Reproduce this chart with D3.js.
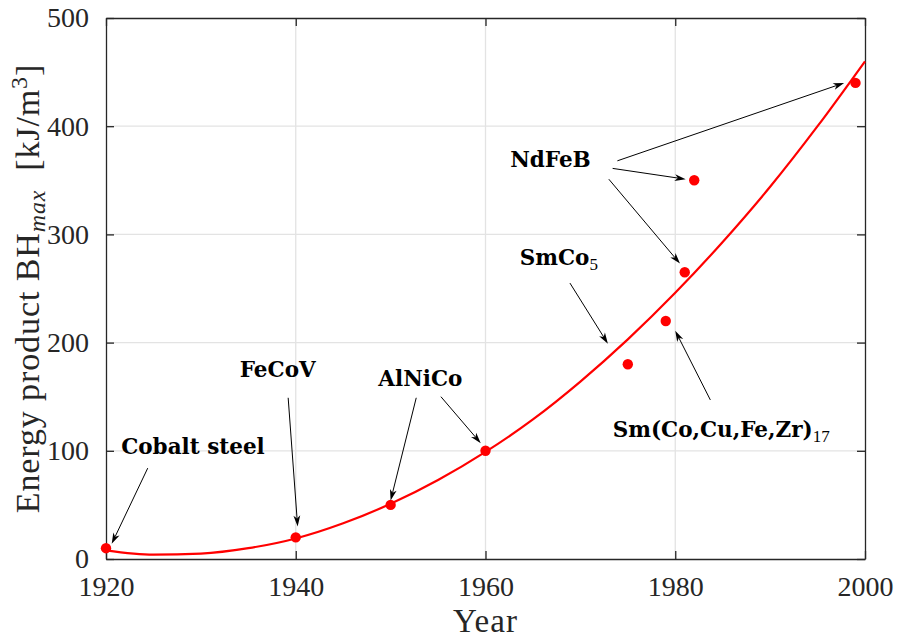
<!DOCTYPE html>
<html>
<head>
<meta charset="utf-8">
<script src="https://cdn.jsdelivr.net/npm/d3@7/dist/d3.min.js"></script>
<style>
  html, body { margin: 0; padding: 0; background: #fff; }
  svg { display: block; }
  .tick text { font-family: "Liberation Serif", serif; }
</style>
</head>
<body>
<svg id="chart" width="898" height="641"></svg>
<script>
// Measured magnets: year of introduction and maximum energy product (kJ/m^3)
const years  = [1920, 1940, 1950, 1960, 1975, 1979, 1981, 1982, 1999];
const bhMax  = [10, 20, 50, 100, 180, 220, 265, 350, 440];

// Trend curve sampled every 5 years
const trendYears  = [1920, 1925, 1930, 1935, 1940, 1945, 1950, 1955, 1960, 1965, 1970, 1975, 1980, 1985, 1990, 1995, 2000];
const trendValues = [8, 4, 5, 10, 19, 33, 51, 73, 99, 129, 164, 203, 246, 293, 344, 400, 460];

// Axis ticks
const xTicks = [1920, 1940, 1960, 1980, 2000];
const yTicks = [0, 100, 200, 300, 400, 500];

// Material labels (text, sub, anchor year, anchor value)
const labelNames = ["Cobalt steel", "FeCoV", "AlNiCo", "SmCo", "NdFeB", "Sm(Co,Cu,Fe,Zr)"];
const labelSubs  = ["", "", "", "5", "", "17"];
const labelYears = [1921.6, 1934.1, 1948.7, 1963.6, 1962.6, 1973.4];
const labelVals  = [97, 168, 160, 272, 362, 113];

// Arrows: tail (year, value) -> head (year, value)
const arrowFrom = [[1924.4, 84], [1939.2, 149], [1952.7, 149], [1955.3, 150], [1968.9, 255],
                   [1973.9, 368], [1973.4, 361], [1973.0, 351], [1983.7, 147]];
const arrowTo   = [[1920.6, 14], [1940.2, 30], [1950.0, 54], [1959.5, 107], [1972.9, 199],
                   [1997.8, 440], [1981.1, 351], [1980.5, 273], [1980.0, 211]];

const svg = d3.select("#chart");
const margin = { left: 106, right: 33, top: 18, bottom: 82 };
const W = 898, H = 641;
const x = d3.scaleLinear().domain([1920, 2000]).range([margin.left, W - margin.right]);
const y = d3.scaleLinear().domain([0, 500]).range([H - margin.bottom, margin.top]);

const axisColor = "#262626";
const gridColor = "#e3e3e3";

// Grid
const grid = svg.append("g");
grid.selectAll("line.gx").data(xTicks.slice(1, -1)).join("line")
  .attr("x1", d => x(d)).attr("x2", d => x(d))
  .attr("y1", y(0)).attr("y2", y(500))
  .attr("stroke", gridColor).attr("stroke-width", 1.3);
grid.selectAll("line.gy").data(yTicks.slice(1, -1)).join("line")
  .attr("x1", x(1920)).attr("x2", x(2000))
  .attr("y1", d => y(d)).attr("y2", d => y(d))
  .attr("stroke", gridColor).attr("stroke-width", 1.3);

// Axes (ticks drawn inward, boxed)
const tickLen = 8;
const fmt = d3.format("d");
const axBottom = svg.append("g").attr("transform", `translate(0,${y(0)})`)
  .call(d3.axisBottom(x).tickValues(xTicks).tickFormat(fmt).tickSizeInner(-tickLen).tickSizeOuter(0).tickPadding(17));
const axTop = svg.append("g").attr("transform", `translate(0,${y(500)})`)
  .call(d3.axisTop(x).tickValues(xTicks).tickFormat("").tickSizeInner(-tickLen).tickSizeOuter(0));
const axLeft = svg.append("g").attr("transform", `translate(${x(1920)},0)`)
  .call(d3.axisLeft(y).tickValues(yTicks).tickFormat(fmt).tickSizeInner(-tickLen).tickSizeOuter(0).tickPadding(17));
const axRight = svg.append("g").attr("transform", `translate(${x(2000)},0)`)
  .call(d3.axisRight(y).tickValues(yTicks).tickFormat("").tickSizeInner(-tickLen).tickSizeOuter(0));

[axBottom, axTop, axLeft, axRight].forEach(g => {
  g.select(".domain").attr("stroke", axisColor).attr("stroke-width", 1.3);
  g.selectAll(".tick line").attr("stroke", axisColor).attr("stroke-width", 1.3);
  g.selectAll(".tick text").attr("fill", axisColor).attr("font-size", 28);
});

// Trend curve
const curveData = trendYears.map((t, i) => [t, trendValues[i]]);
svg.append("path")
  .datum(curveData)
  .attr("fill", "none")
  .attr("stroke", "#ff0000")
  .attr("stroke-width", 2.2)
  .attr("d", d3.line().x(d => x(d[0])).y(d => y(d[1])).curve(d3.curveMonotoneX));

// Points
svg.append("g").selectAll("circle")
  .data(years.map((t, i) => [t, bhMax[i]]))
  .join("circle")
  .attr("cx", d => x(d[0])).attr("cy", d => y(d[1]))
  .attr("r", 5.2).attr("fill", "#ff0000");

// Arrows
const arrows = svg.append("g");
arrowFrom.forEach((f, i) => {
  const t = arrowTo[i];
  const x1 = x(f[0]), y1 = y(f[1]), x2 = x(t[0]), y2 = y(t[1]);
  const ang = Math.atan2(y2 - y1, x2 - x1);
  const hl = 11, hw = 3.4, notch = 8;
  const bx = x2 - hl * Math.cos(ang), by = y2 - hl * Math.sin(ang);
  const nx = x2 - notch * Math.cos(ang), ny = y2 - notch * Math.sin(ang);
  const px = -Math.sin(ang), py = Math.cos(ang);
  arrows.append("line")
    .attr("x1", x1).attr("y1", y1).attr("x2", nx).attr("y2", ny)
    .attr("stroke", "#000").attr("stroke-width", 1);
  arrows.append("path")
    .attr("d", `M${x2},${y2}L${bx + hw * px},${by + hw * py}L${nx},${ny}L${bx - hw * px},${by - hw * py}Z`)
    .attr("fill", "#000");
});

// Labels
const labels = svg.append("g")
  .attr("font-family", "DejaVu Serif, serif")
  .attr("font-weight", "bold")
  .attr("font-size", 21.5)
  .attr("fill", "#000");
labelNames.forEach((name, i) => {
  const t = labels.append("text").attr("x", x(labelYears[i])).attr("y", y(labelVals[i]));
  t.append("tspan").text(name);
  if (labelSubs[i]) {
    t.append("tspan").text(labelSubs[i])
      .attr("font-family", "Liberation Serif, serif")
      .attr("font-weight", "normal").attr("font-size", 17).attr("dy", 5);
  }
});

// Axis titles
svg.append("text")
  .attr("x", (x(1920) + x(2000)) / 2).attr("y", 632)
  .attr("text-anchor", "middle")
  .attr("font-family", "Liberation Serif, serif")
  .attr("font-size", 33).attr("letter-spacing", 1).attr("fill", axisColor)
  .text("Year");

const yl = svg.append("text")
  .attr("transform", `translate(39,${(y(0) + y(500)) / 2}) rotate(-90)`)
  .attr("text-anchor", "middle")
  .attr("font-family", "Liberation Serif, serif")
  .attr("font-size", 34).attr("letter-spacing", 0.9).attr("fill", axisColor);
yl.append("tspan").text("Energy product BH");
yl.append("tspan").text("max").attr("font-style", "italic").attr("font-size", 24).attr("dy", 6);
yl.append("tspan").text("\u00a0\u00a0[kJ/m").attr("dy", -6);
yl.append("tspan").text("3").attr("font-size", 24).attr("dy", -12);
yl.append("tspan").text("]").attr("dy", 12);
</script>
</body>
</html>
